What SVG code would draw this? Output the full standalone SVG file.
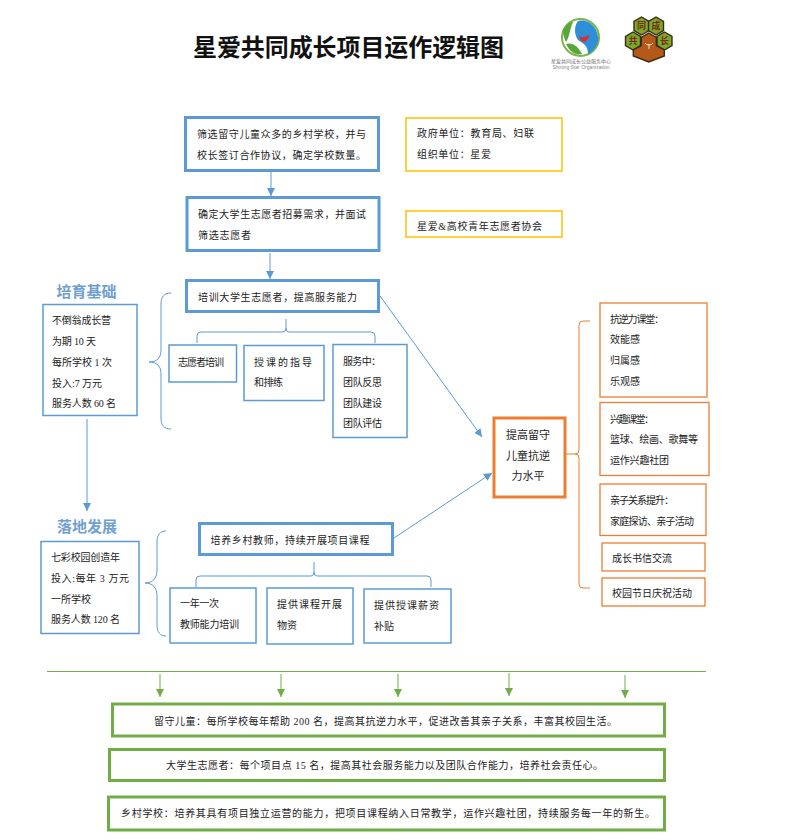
<svg xmlns="http://www.w3.org/2000/svg" width="794" height="840" viewBox="0 0 794 840">
<style>
text{font-family:"Liberation Serif","Noto Sans CJK SC",sans-serif;font-size:10px;fill:#222}
.title{font-size:24px;font-weight:700;fill:#111;font-family:"Noto Sans CJK SC",sans-serif}
.head{font-size:15px;font-weight:700;fill:#6f9fd0;text-anchor:middle}
.mid{text-anchor:middle;font-size:11px}
.bb{fill:#fff;stroke:#5b9bd5;stroke-width:3}
.bt{fill:#fff;stroke:#5b9bd5;stroke-width:1.5}
.yb{fill:#fff;stroke:#ffc000;stroke-width:1.5}
.ob{fill:#fff;stroke:#ed7d31;stroke-width:1.3}
.oB{fill:#fff;stroke:#ed7d31;stroke-width:3}
.gb{fill:#fff;stroke:#70ad47;stroke-width:3}
.cb{fill:none;stroke:#5b9bd5;stroke-width:1}
.co{fill:none;stroke:#ed7d31;stroke-width:1}
.cg{fill:none;stroke:#70ad47;stroke-width:1}
.hg{fill:#7aa82a;stroke:#3a2a16;stroke-width:1.400}
.hb{fill:#b4591a;stroke:#3a2a16;stroke-width:1.400}
.ht{font-size:9px;fill:#7a2a10;text-anchor:middle;font-weight:700}
</style>
<defs>
<marker id="ab" markerUnits="userSpaceOnUse" markerWidth="9" markerHeight="8" refX="8" refY="4" orient="auto"><path d="M0 0L8 4L0 8Z" fill="#5b9bd5"/></marker>
<marker id="ag" markerUnits="userSpaceOnUse" markerWidth="9" markerHeight="9" refX="8" refY="4" orient="auto"><path d="M0 0L8 4L0 8Z" fill="#70ad47"/></marker>
</defs>
<rect width="794" height="840" fill="#fff"/>
<text class="title" x="193" y="56" textLength="311">星爱共同成长项目运作逻辑图</text>

<g id="logo-star">
<circle cx="580.500" cy="37.500" r="18.500" fill="#fff" stroke="#7ab648" stroke-width="2"/>
<path d="M578 21C590 18 600 30 598 42C596 48 592 52 588 54C588 46 584 44 578 40C574 34 574 26 578 21Z" fill="#2f8fd6"/>
<path d="M563 30C566 24 570 22 573 22C570 28 570 36 566 42C564 38 563 34 563 30Z" fill="#5aa63a"/>
<path d="M566 44C572 42 578 46 582 54C576 56 570 52 566 44Z" fill="#5aa63a"/>
<path d="M579 36q2.500 2 5 1q3 -1 5 -2q0 5 -5 7q-4 -1 -5 -6Z" fill="#d9302c"/>
<text x="581" y="63" text-anchor="middle" style="font-size:5px;fill:#777">星爱共同成长公益服务中心</text>
<text x="581" y="69" text-anchor="middle" style="font-size:5px;fill:#888;font-family:'Liberation Sans',sans-serif">Shining Star Organization</text>
</g>
<g id="logo-hex">
<path class="hg" d="M641.500 17l7.500 4.500v9l-7.500 4.500l-7.500 -4.500v-9Z"/>
<path class="hg" d="M656 17l7.500 4.500v9l-7.500 4.500l-7.500 -4.500v-9Z"/>
<path class="hg" d="M633 32l7.500 4.500v9l-7.500 4.500l-7.500 -4.500v-9Z"/>
<path class="hg" d="M664.500 32l7.500 4.500v9l-7.500 4.500l-7.500 -4.500v-9Z"/>
<path class="hb" d="M648.800 33l7.500 4.500v8l8 4.500v6l-15.500 6l-15.500 -6v-6l8 -4.500v-8Z"/>
<text class="ht" x="641.500" y="29">同</text><text class="ht" x="656" y="29">成</text>
<text class="ht" x="633" y="44">共</text><text class="ht" x="664.500" y="44">长</text>
<path d="M649 49v-5M649 45q-3 0 -4 -2M649 45q3 0 4 -2" fill="none" stroke="#e8e8b0" stroke-width="1"/>
</g>

<g id="connectors">
<path class="cb" d="M271 172V196" marker-end="url(#ab)"/>
<path class="cb" d="M270 253V279" marker-end="url(#ab)"/>
<path class="cb" d="M87 419V511" marker-end="url(#ab)"/>
<path class="cb" d="M380 296L482 437" marker-end="url(#ab)"/>
<path class="cb" d="M394 538L492 473" marker-end="url(#ab)"/>
<path class="cb" d="M171 293C164 293 161 297 161 304V350C161 358 157 362 149 362C157 362 161 366 161 374V418C161 425 164 429 171 429"/>
<path class="cb" d="M286 319V328Q286 332 283 332H201Q197 332 197 336V343M286 328Q286 332 289 332H371Q375 332 375 336V343"/>
<path class="cb" d="M166 531C160 531 157 535 157 542V570C157 578 153 583 145 583C153 583 157 588 157 596V625C157 632 160 636 166 636"/>
<path class="cb" d="M314 562V572Q314 576 311 576H200Q196 576 196 580V587M314 572Q314 576 317 576H427Q431 576 431 580V587"/>
<path class="co" d="M566 454H575Q579 454 579 450V325Q579 321 583 321H590M575 454Q579 454 579 458V584Q579 588 583 588H590"/>
<path class="cg" d="M47 671.500H706"/>
<path class="cg" d="M160 674V697" marker-end="url(#ag)"/>
<path class="cg" d="M281 674V697" marker-end="url(#ag)"/>
<path class="cg" d="M398 674V697" marker-end="url(#ag)"/>
<path class="cg" d="M509 673V696" marker-end="url(#ag)"/>
<path class="cg" d="M625 675V698" marker-end="url(#ag)"/>
</g>

<g id="n-screen-school"><rect class="bb" x="185.500" y="117.500" width="193" height="53"/>
<text x="197" y="138" textLength="169">筛选留守儿童众多的乡村学校，并与</text>
<text x="197" y="159" textLength="169">校长签订合作协议，确定学校数量。</text></g>
<g id="n-gov"><rect class="yb" x="406" y="118" width="156" height="53"/>
<text x="417" y="137" textLength="117">政府单位：教育局、妇联</text>
<text x="417" y="158" textLength="74">组织单位：星爱</text></g>
<g id="n-recruit"><rect class="bb" x="187" y="197.500" width="192" height="53"/>
<text x="198" y="218" textLength="168">确定大学生志愿者招募需求，并面试</text>
<text x="198" y="239" textLength="53">筛选志愿者</text></g>
<g id="n-assoc"><rect class="yb" x="406" y="211" width="156" height="26"/>
<text x="417" y="230" textLength="125">星爱&amp;高校青年志愿者协会</text></g>
<g id="n-train"><rect class="bb" x="186.500" y="280.500" width="192" height="31"/>
<text x="198" y="301" textLength="159">培训大学生志愿者，提高服务能力</text></g>

<g id="n-base-title"><text class="head" x="86.500" y="297">培育基础</text></g>
<g id="n-base"><rect class="bt" x="43" y="304.500" width="94" height="111"/>
<text x="52" y="324" textLength="59">不倒翁成长营</text>
<text x="52" y="345" textLength="44">为期 10 天</text>
<text x="52" y="366" textLength="60">每所学校 1 次</text>
<text x="52" y="387" textLength="50">投入:7 万元</text>
<text x="52" y="407" textLength="64">服务人数 60 名</text></g>
<g id="n-t1"><rect class="bt" x="169" y="345" width="67.500" height="37"/>
<text x="178" y="366" textLength="46">志愿者培训</text></g>
<g id="n-t2"><rect class="bt" x="244" y="345.500" width="80" height="55"/>
<text x="254" y="366" textLength="58">授课的指导</text>
<text x="254" y="386" textLength="29">和排练</text></g>
<g id="n-t3"><rect class="bt" x="333" y="344.500" width="74" height="93"/>
<text x="343" y="365" textLength="38">服务中：</text>
<text x="343" y="386" textLength="39">团队反思</text>
<text x="343" y="407" textLength="39">团队建设</text>
<text x="343" y="427" textLength="39">团队评估</text></g>

<g id="n-land-title"><text class="head" x="87" y="532">落地发展</text></g>
<g id="n-land"><rect class="bt" x="41" y="541.500" width="98" height="92"/>
<text x="51" y="561" textLength="69">七彩校园创造年</text>
<text x="51" y="582" textLength="78">投入:每年 3 万元</text>
<text x="51" y="603" textLength="40">一所学校</text>
<text x="51" y="623" textLength="69">服务人数 120 名</text></g>
<g id="n-teacher"><rect class="bb" x="199.500" y="523.500" width="193" height="31"/>
<text x="210.500" y="544" textLength="159">培养乡村教师，持续开展项目课程</text></g>
<g id="n-s1"><rect class="bt" x="170" y="588" width="86" height="55"/>
<text x="180" y="607" textLength="39">一年一次</text>
<text x="180" y="628" textLength="59">教师能力培训</text></g>
<g id="n-s2"><rect class="bt" x="267" y="588" width="86" height="56"/>
<text x="277" y="608" textLength="65">提供课程开展</text>
<text x="277" y="629" textLength="20">物资</text></g>
<g id="n-s3"><rect class="bt" x="364" y="589" width="87" height="54"/>
<text x="374" y="609" textLength="65">提供授课薪资</text>
<text x="374" y="630" textLength="20">补贴</text></g>

<g id="n-core"><rect class="oB" x="494" y="418" width="71" height="79"/>
<text class="mid" x="528" y="439">提高留守</text>
<text class="mid" x="528" y="460">儿童抗逆</text>
<text class="mid" x="528" y="480">力水平</text></g>
<g id="n-r1"><rect class="ob" x="600" y="303" width="107" height="94"/>
<text x="610" y="323" textLength="54">抗逆力课堂：</text>
<text x="610" y="343" textLength="30">效能感</text>
<text x="610" y="364" textLength="30">归属感</text>
<text x="610" y="385" textLength="30">乐观感</text></g>
<g id="n-r2"><rect class="ob" x="600" y="402.500" width="109" height="73"/>
<text x="610" y="423" textLength="44">兴趣课堂：</text>
<text x="610" y="443" textLength="88">篮球、绘画、歌舞等</text>
<text x="610" y="464" textLength="59">运作兴趣社团</text></g>
<g id="n-r3"><rect class="ob" x="600" y="484" width="106" height="51.500"/>
<text x="610" y="504" textLength="64">亲子关系提升：</text>
<text x="610" y="525" textLength="84">家庭探访、亲子活动</text></g>
<g id="n-r4"><rect class="ob" x="602" y="543" width="103" height="28"/>
<text x="612" y="562" textLength="60">成长书信交流</text></g>
<g id="n-r5"><rect class="ob" x="602" y="578" width="103" height="28"/>
<text x="612" y="597" textLength="80">校园节日庆祝活动</text></g>

<g id="n-o1"><rect class="gb" x="112.500" y="704" width="552" height="32"/>
<text x="154" y="725" textLength="463">留守儿童：每所学校每年帮助 200 名，提高其抗逆力水平，促进改善其亲子关系，丰富其校园生活。</text></g>
<g id="n-o2"><rect class="gb" x="109.500" y="749.500" width="555" height="31"/>
<text x="166" y="769" textLength="437">大学生志愿者：每个项目点 15 名，提高其社会服务能力以及团队合作能力，培养社会责任心。</text></g>
<g id="n-o3"><rect class="gb" x="108.500" y="797" width="556" height="33"/>
<text x="121" y="817" textLength="534">乡村学校：培养其具有项目独立运营的能力，把项目课程纳入日常教学，运作兴趣社团，持续服务每一年的新生。</text></g>
</svg>
